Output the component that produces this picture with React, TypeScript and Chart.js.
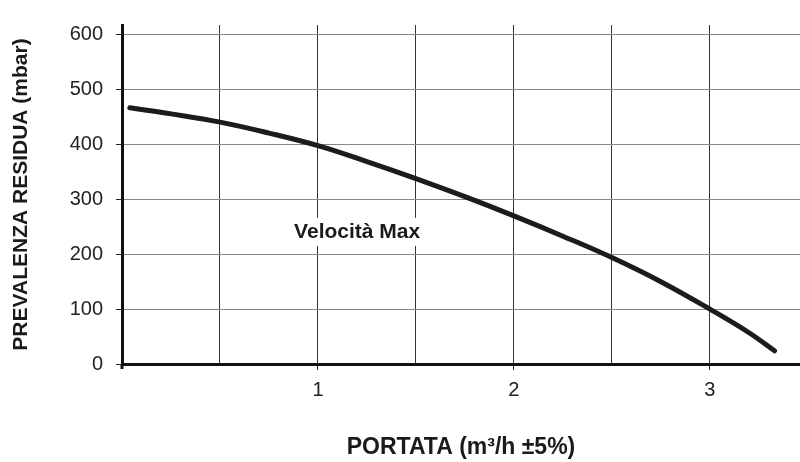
import React, { useEffect, useRef } from "react";
import { Chart, registerables } from "chart.js";
Chart.register(...registerables);

const portata = [0.04, 0.25, 0.5, 0.75, 1.0, 1.25, 1.5, 1.75, 2.0, 2.25, 2.5, 2.75, 3.0, 3.2, 3.33];
const prevalenza = [467, 456, 441, 421, 398, 369, 338, 305, 270, 233, 194, 150, 100, 57, 24];
const xTickValues = [1, 2, 3];
const seriesLabel = "Velocità Max";
const xTitle = "PORTATA (m³/h ±5%)";
const yTitle = "PREVALENZA RESIDUA (mbar)";

const FONT = "'Liberation Sans', Arial, Helvetica, sans-serif";

export default function App() {
  const ref = useRef<HTMLCanvasElement>(null);
  useEffect(() => {
    document.body.style.margin = "0";
    const labelPlugin = {
      id: "curveLabel",
      afterDatasetsDraw(chart: any) {
        const { ctx, scales } = chart;
        const px = scales.x.getPixelForValue(1.2);
        const py = scales.y.getPixelForValue(241);
        ctx.save();
        ctx.font = `bold 21px ${FONT}`;
        const w = ctx.measureText(seriesLabel).width;
        ctx.fillStyle = "#ffffff";
        ctx.fillRect(px - w / 2 - 6, py - 14, w + 12, 28);
        ctx.fillStyle = "#1a1a1a";
        ctx.textAlign = "center";
        ctx.textBaseline = "middle";
        ctx.fillText(seriesLabel, px, py);
        ctx.restore();
      },
      afterDraw(chart: any) {
        const { ctx, chartArea } = chart;
        ctx.save();
        ctx.strokeStyle = "#111";
        ctx.lineWidth = 3;
        ctx.beginPath();
        ctx.moveTo(chartArea.left, chartArea.bottom);
        ctx.lineTo(chartArea.left, chartArea.bottom + 5);
        ctx.stroke();
        ctx.restore();
      },
    };
    const chart = new Chart(ref.current!, {
      type: "line",
      data: {
        datasets: [
          {
            label: seriesLabel,
            data: portata.map((x, i) => ({ x, y: prevalenza[i] })),
            borderColor: "#1c1c1c",
            borderWidth: 5,
            pointRadius: 0,
            tension: 0.4,
            borderCapStyle: "round",
            fill: false,
          },
        ],
      },
      options: {
        responsive: false,
        animation: false,
        layout: { padding: { top: 15, right: 0, left: 0, bottom: 0 } },
        plugins: { legend: { display: false }, tooltip: { enabled: false } },
        scales: {
          x: {
            type: "linear",
            min: 0,
            max: 3.46,
            afterFit: (s: any) => {
              s.height = 98;
            },
            ticks: {
              stepSize: 0.5,
              includeBounds: false,
              maxRotation: 0,
              autoSkip: false,
              padding: 8,
              color: "#222",
              font: { family: FONT, size: 20 },
              callback: (v: any) => (xTickValues.includes(Number(v)) ? String(v) : ""),
            },
            grid: {
              color: "#333",
              lineWidth: 1,
              tickLength: 6,
              tickColor: (c: any) => (c.tick && xTickValues.includes(c.tick.value) ? "#222" : "rgba(0,0,0,0)"),
            },
            border: { display: true, color: "#111", width: 3 },
            title: {
              display: true,
              text: xTitle,
              color: "#1a1a1a",
              font: { family: FONT, size: 23, weight: "bold" },
              padding: { top: 0, bottom: 1 },
            },
          },
          y: {
            type: "linear",
            min: 0,
            max: 618,
            afterFit: (s: any) => {
              s.width = 122;
            },
            ticks: {
              stepSize: 100,
              includeBounds: false,
              padding: 13,
              color: "#222",
              font: { family: FONT, size: 20 },
            },
            grid: {
              color: "#888",
              lineWidth: 1,
              tickLength: 6,
              tickColor: "#222",
            },
            border: { display: true, color: "#111", width: 3 },
            title: {
              display: true,
              text: yTitle,
              color: "#1a1a1a",
              font: { family: FONT, size: 21, weight: "bold" },
              padding: { top: 9, bottom: 0 },
            },
          },
        },
      },
      plugins: [labelPlugin],
    });
    return () => chart.destroy();
  }, []);
  return (
    <div style={{ width: 800, height: 462, background: "#fff" }}>
      <canvas ref={ref} width={800} height={462} />
    </div>
  );
}
